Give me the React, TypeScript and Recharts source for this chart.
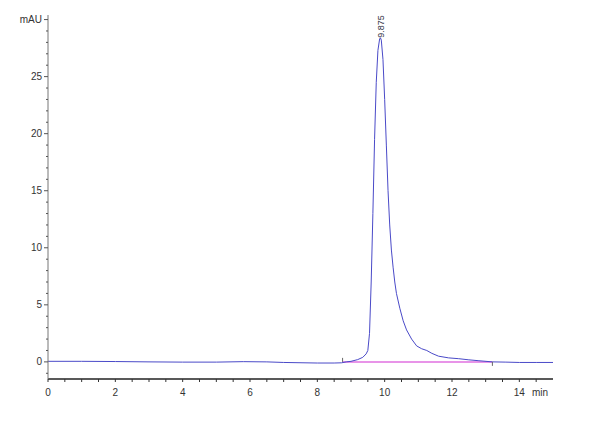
import { LineChart, Line, XAxis, YAxis, ReferenceDot, ReferenceLine } from 'recharts'

// chromatogram trace (min, mAU)
const traceTime = [
    0, 1, 2, 3, 4, 5, 5.8, 6.5, 7, 8, 8.5, 8.72, 8.86, 9.0, 9.2, 9.35, 9.45, 9.5, 9.55,
    9.6, 9.65, 9.7, 9.75, 9.8, 9.85, 9.875, 9.9, 9.95, 10.0, 10.05, 10.1, 10.15, 10.2,
    10.25, 10.3, 10.35, 10.45, 10.55, 10.65, 10.8, 10.95, 11.1, 11.25, 11.4, 11.6, 11.9,
    12.2, 12.5, 12.8, 13.2, 13.6, 14.0, 14.5, 15
]
const traceValue = [
    0.05, 0.05, 0.03, 0.0, -0.02, -0.02, 0.02, 0.0, -0.05, -0.1, -0.1, -0.08, 0.0, 0.05,
    0.2, 0.4, 0.7, 1.0, 2.5, 7.0, 13.0, 19.5, 24.5, 27.3, 28.3, 28.4, 28.2, 26.5, 23.0,
    19.0, 15.0, 12.0, 9.8, 8.3, 7.0, 6.0, 4.7, 3.6, 2.8, 2.0, 1.4, 1.15, 1.0, 0.75, 0.5,
    0.35, 0.28, 0.18, 0.1, 0.0, -0.02, -0.05, -0.05, -0.05
]

// integration baseline
const baseTime = [8.75, 13.2]
const baseValue = [0, 0]

const peakTime = 9.875
const peakHeight = 28.4
const peakLabel = '9.875'

const xLabels = [0, 2, 4, 6, 8, 10, 12, 14]
const yLabels = [0, 5, 10, 15, 20, 25]
const yUnitTick = 30
const xTicks = Array.from({ length: 30 }, (_, i) => i * 0.5)
const yTicks = Array.from({ length: 32 }, (_, i) => i - 1)

const trace = traceTime.map((t, i) => ({ t, v: traceValue[i] }))
const baseline = baseTime.map((t, i) => ({ t, v: baseValue[i] }))

const font = 'Arial, "Liberation Sans", sans-serif'

function XTick({ x, y, payload }: any) {
    const v = payload.value
    const show = xLabels.includes(v)
    return (
        <g>
            <line x1={x} y1={y} x2={x} y2={y + 3} stroke="#333" strokeWidth={1} />
            {show && (
                <text x={x} y={y + 17} textAnchor="middle" fontSize={10} fontFamily={font} fill="#333">
                    {v}
                </text>
            )}
        </g>
    )
}

function YTick({ x, y, payload }: any) {
    const v = payload.value
    const major = yLabels.includes(v) || v === yUnitTick
    return (
        <g>
            <line x1={x - (major ? 4 : 2)} y1={y} x2={x} y2={y} stroke="#555" strokeWidth={1} />
            {major && (
                <text x={x - 6} y={y + 3.5} textAnchor="end" fontSize={10} fontFamily={font} fill="#333">
                    {v === yUnitTick ? 'mAU' : v}
                </text>
            )}
        </g>
    )
}

function PeakLabel({ cx, cy }: any) {
    const x = cx + 3.5
    return (
        <text x={x} y={cy} transform={`rotate(-90 ${x} ${cy})`} fontSize={9}
            fontFamily={font} fill="#334" textAnchor="start">
            {peakLabel}
        </text>
    )
}

export default function App() {
    return (
        <div style={{ position: 'absolute', left: 0, top: 0, width: 594, height: 421, background: '#fff' }}>
            <LineChart width={594} height={421} margin={{ top: 15, right: 41, bottom: 0, left: 0 }}>
                <XAxis
                    dataKey="t"
                    type="number"
                    domain={[0, 15]}
                    ticks={xTicks}
                    interval={0}
                    height={42}
                    tickSize={0}
                    tickMargin={0}
                    tickLine={false}
                    tick={<XTick />}
                    axisLine={{ stroke: '#222', strokeWidth: 1.5 }}
                    allowDataOverflow
                />
                <YAxis
                    type="number"
                    domain={[-1.5, 30.4]}
                    ticks={yTicks}
                    interval={0}
                    width={48}
                    tickSize={0}
                    tickMargin={0}
                    tickLine={false}
                    tick={<YTick />}
                    axisLine={{ stroke: '#777', strokeWidth: 1 }}
                    allowDataOverflow
                />
                <Line data={baseline} dataKey="v" type="linear" stroke="#e070e0" strokeWidth={1.5}
                    dot={false} isAnimationActive={false} />
                <Line data={trace} dataKey="v" type="linear" stroke="#4a4ac8" strokeWidth={1}
                    dot={false} isAnimationActive={false} />
                <ReferenceLine segment={[{ x: baseTime[0], y: 0 }, { x: baseTime[0], y: 0.35 }]} stroke="#666" />
                <ReferenceLine segment={[{ x: baseTime[1], y: 0 }, { x: baseTime[1], y: -0.35 }]} stroke="#666" />
                <ReferenceDot x={peakTime} y={peakHeight} r={0} shape={<PeakLabel />} />
                <text x={540} y={396} textAnchor="middle" fontSize={10} fontFamily={font} fill="#333">min</text>
            </LineChart>
        </div>
    )
}
